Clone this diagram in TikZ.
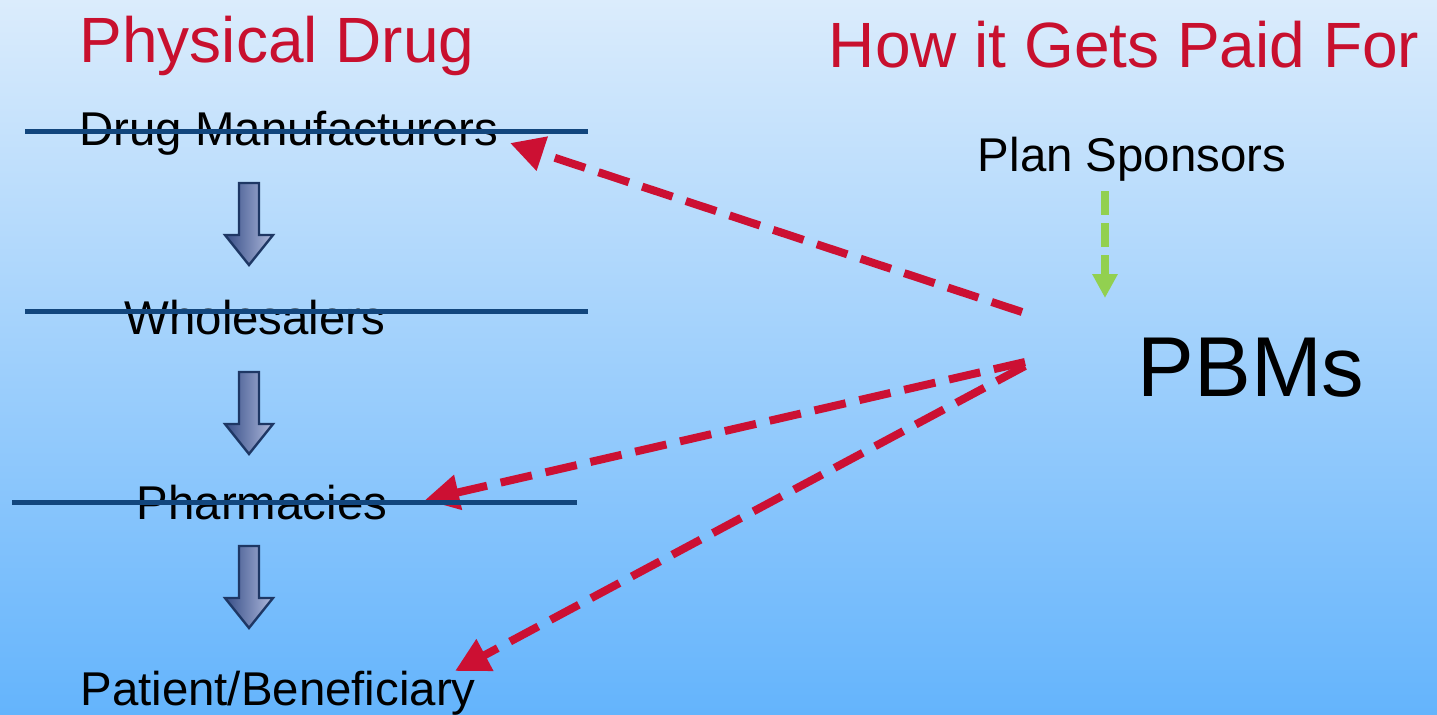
\documentclass[tikz,border=0pt]{standalone}
\usepackage{fontspec}
\setmainfont{Liberation Sans}
\usetikzlibrary{arrows.meta}
\definecolor{bgtop}{RGB}{219,236,252}
\definecolor{bgbot}{RGB}{100,180,252}
\definecolor{titlered}{RGB}{200,16,46}
\definecolor{strike}{RGB}{18,70,125}
\definecolor{dashred}{RGB}{204,16,51}
\definecolor{leafgreen}{RGB}{146,208,80}
\definecolor{blockdark}{RGB}{55,78,135}
\definecolor{blocklight}{RGB}{175,185,220}
\definecolor{blockedge}{RGB}{30,55,100}
\tikzset{
  titletext/.style={text=titlered, font=\fontsize{32}{37}\selectfont, anchor=base, inner sep=0pt},
  itemtext/.style={text=black, font=\fontsize{23.7}{28}\selectfont, anchor=base, inner sep=0pt},
  bigtext/.style={text=black, font=\fontsize{42.5}{50}\selectfont, anchor=base, inner sep=0pt},
  strikeline/.style={draw=strike, line width=2.5pt},
  payarrow/.style={draw=dashred, line width=4pt, dash pattern=on 16pt off 7pt,
    -{Triangle[length=17pt,width=17pt]}},
  fundarrow/.style={draw=leafgreen, line width=4pt, dash pattern=on 12pt off 4pt,
    -{Triangle[length=12pt,width=12pt]}},
  downblock/.pic={
    \shade[left color=blockdark, right color=blocklight, draw=blockedge, line width=1.2pt]
      (-10,0) -- (10,0) -- (10,52) -- (24,52) -- (0,82) -- (-24,52) -- (-10,52) -- cycle;
  }
}
\begin{document}
\begin{tikzpicture}[x=0.5pt, y=-0.5pt]
\useasboundingbox (0,0) rectangle (1437,714);
\shade[top color=bgtop, bottom color=bgbot] (0,0) rectangle (1437,714);

% headings
\node[titletext] (phys) at (277,62) {Physical Drug};
\node[titletext] (paid) at (1124,67) {How it Gets Paid For};

% physical chain
\node[itemtext] (mfr) at (289,145) {Drug Manufacturers};
\node[itemtext] (whl) at (255,334) {Wholesalers};
\node[itemtext] (phm) at (262,519) {Pharmacies};
\node[itemtext] (pat) at (278,705) {Patient/Beneficiary};

% payment side
\node[itemtext] (spon) at (1132,171) {Plan Sponsors};
\node[bigtext] (pbm) at (1251,396) {PBMs};

% block arrows
\pic (blockA) at (249,183) {downblock};
\pic (blockB) at (249,372) {downblock};
\pic (blockC) at (249,546) {downblock};

% payment arrows
\coordinate (pbmTop) at (1022,312);
\coordinate (pbmMid) at (1025,362);
\coordinate (pbmLow) at (1025,366);
\coordinate (mfrTip) at (510,143);
\coordinate (phmTip) at (425,500);
\coordinate (patTip) at (455,671);
\draw[payarrow] (pbmTop) -- (mfrTip);
\draw[payarrow] (pbmMid) -- (phmTip);
\draw[payarrow] (pbmLow) -- (patTip);

% sponsor funding arrow
\coordinate (sponFoot) at (1105,191);
\coordinate (pbmHead) at (1105,298);
\draw[fundarrow] (sponFoot) -- (pbmHead);

% strike lines
\coordinate (s1a) at (25,131); \coordinate (s1b) at (588,131);
\coordinate (s2a) at (25,311); \coordinate (s2b) at (588,311);
\coordinate (s3a) at (12,502); \coordinate (s3b) at (577,502);
\draw[strikeline] (s1a) -- (s1b);
\draw[strikeline] (s2a) -- (s2b);
\draw[strikeline] (s3a) -- (s3b);
\end{tikzpicture}
\end{document}
